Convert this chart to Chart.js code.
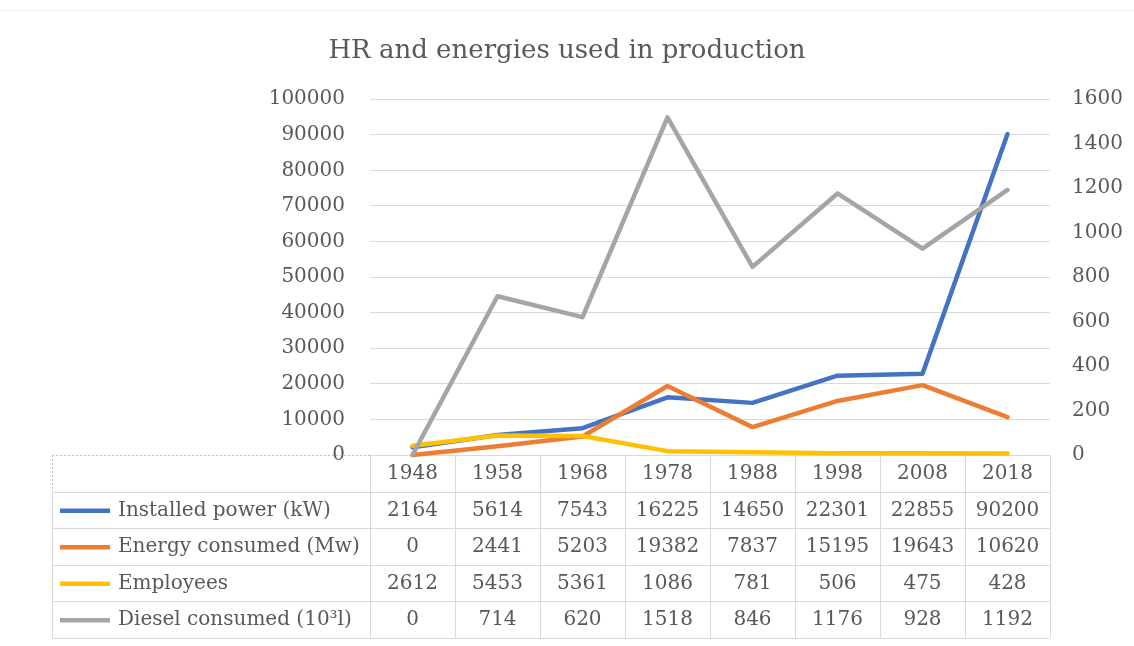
<!DOCTYPE html>
<html>
<head>
<meta charset="utf-8">
<title>HR and energies used in production</title>
<script src="https://cdn.jsdelivr.net/npm/chart.js@4/dist/chart.umd.min.js"></script>
<style>
  html, body { margin: 0; padding: 0; background: #fff; }
  #wrap { width: 1134px; height: 646px; position: relative; }
  #wrap:before { content: ''; position: absolute; left: 0; right: 0; top: 10px; border-top: 1px solid #f0f0f0; }
</style>
</head>
<body>
<div id="wrap"><canvas id="chart" width="1134" height="646"></canvas></div>
<script>
// chart data
const years = ['1948', '1958', '1968', '1978', '1988', '1998', '2008', '2018'];
const installedPower = [2164, 5614, 7543, 16225, 14650, 22301, 22855, 90200];
const energyConsumed = [0, 2441, 5203, 19382, 7837, 15195, 19643, 10620];
const employees = [2612, 5453, 5361, 1086, 781, 506, 475, 428];
const dieselConsumed = [0, 714, 620, 1518, 846, 1176, 928, 1192];

const seriesNames = ['Installed power (kW)', 'Energy consumed (Mw)', 'Employees', 'Diesel consumed (10\u00B3l)'];
const seriesColors = ['#4472C4', '#ED7D31', '#FFC000', '#A5A5A5'];

const leftMax = 100000, leftStep = 10000;
const rightMax = 1600, rightStep = 200;

const FONT = "'DejaVu Serif', 'Liberation Serif', serif";
const TEXT = '#595959';
const GRID = '#D9D9D9';

// data table under the plot (Excel style), columns follow the x scale
const dataTable = {
    id: 'dataTable',
    afterDraw(chart) {
        const { ctx, chartArea } = chart;
        const x = chart.scales.x;
        const values = [installedPower, energyConsumed, employees, dieselConsumed];
        const rowH = 36.5;
        const top = chartArea.bottom;
        const tableLeft = 52;
        const step = chartArea.width / years.length;
        const nRows = values.length + 1;

        ctx.save();
        ctx.lineWidth = 1;

        // header label cell: dashed
        ctx.strokeStyle = '#BFBFBF';
        ctx.setLineDash([2, 2]);
        ctx.beginPath();
        ctx.moveTo(tableLeft, top + 0.5);
        ctx.lineTo(chartArea.left, top + 0.5);
        ctx.moveTo(tableLeft + 0.5, top);
        ctx.lineTo(tableLeft + 0.5, top + rowH);
        ctx.stroke();
        ctx.setLineDash([]);

        // solid grid
        ctx.strokeStyle = GRID;
        ctx.beginPath();
        for (let r = 1; r <= nRows; r++) {
            const y = Math.round(top + r * rowH) + 0.5;
            ctx.moveTo(tableLeft, y);
            ctx.lineTo(chartArea.right, y);
        }
        ctx.moveTo(tableLeft + 0.5, top + rowH);
        ctx.lineTo(tableLeft + 0.5, top + nRows * rowH);
        for (let i = 0; i <= years.length; i++) {
            const cx = Math.round(chartArea.left + i * step) + 0.5;
            ctx.moveTo(cx, top);
            ctx.lineTo(cx, top + nRows * rowH);
        }
        ctx.stroke();

        ctx.font = '20px ' + FONT;
        ctx.fillStyle = TEXT;
        ctx.textBaseline = 'middle';
        ctx.textAlign = 'center';
        years.forEach((yr, i) => {
            ctx.fillText(yr, x.getPixelForValue(i), top + rowH / 2 + 1);
        });

        values.forEach((row, r) => {
            const cy = top + (r + 1.5) * rowH + 1;
            // legend key
            ctx.strokeStyle = seriesColors[r];
            ctx.lineWidth = 4.5;
            ctx.beginPath();
            ctx.moveTo(60, cy);
            ctx.lineTo(110, cy);
            ctx.stroke();
            ctx.textAlign = 'left';
            ctx.fillText(seriesNames[r], 118, cy);
            ctx.textAlign = 'center';
            row.forEach((v, i) => {
                ctx.fillText(String(v), x.getPixelForValue(i), cy);
            });
        });
        ctx.restore();
    }
};

function makeSet(i, data, axis, order) {
    return {
        label: seriesNames[i],
        data: data,
        yAxisID: axis,
        borderColor: seriesColors[i],
        backgroundColor: seriesColors[i],
        borderWidth: 4.5,
        pointRadius: 0,
        pointHoverRadius: 0,
        tension: 0,
        borderJoinStyle: 'round',
        borderCapStyle: 'round',
        clip: false,
        order: order
    };
}

const plainTick = v => String(v);

new Chart(document.getElementById('chart'), {
    type: 'line',
    data: {
        labels: years,
        datasets: [
            makeSet(0, installedPower, 'y', 3),
            makeSet(1, energyConsumed, 'y', 2),
            makeSet(2, employees, 'y', 1),
            makeSet(3, dieselConsumed, 'y1', 0)
        ]
    },
    options: {
        responsive: false,
        animation: false,
        devicePixelRatio: 1,
        layout: { padding: { top: 0, left: 0, right: 0, bottom: 191 } },
        plugins: {
            legend: { display: false },
            tooltip: { enabled: false },
            title: {
                display: true,
                text: 'HR and energies used in production',
                color: TEXT,
                font: { family: FONT, size: 26, weight: 'normal' },
                padding: { top: 36, bottom: 32 }
            }
        },
        scales: {
            x: {
                display: false,
                offset: true
            },
            y: {
                position: 'left',
                min: 0,
                max: leftMax,
                afterFit(s) { s.width = 370; },
                ticks: {
                    stepSize: leftStep,
                    padding: 25,
                    color: TEXT,
                    font: { family: FONT, size: 20 },
                    callback: plainTick
                },
                grid: { color: GRID, lineWidth: 1, drawTicks: false },
                border: { display: false }
            },
            y1: {
                position: 'right',
                min: 0,
                max: rightMax,
                afterFit(s) { s.width = 84; },
                ticks: {
                    stepSize: rightStep,
                    padding: 22,
                    color: TEXT,
                    font: { family: FONT, size: 20 },
                    callback: plainTick
                },
                grid: { display: false, drawTicks: false },
                border: { display: false }
            }
        }
    },
    plugins: [dataTable]
});
</script>
</body>
</html>
